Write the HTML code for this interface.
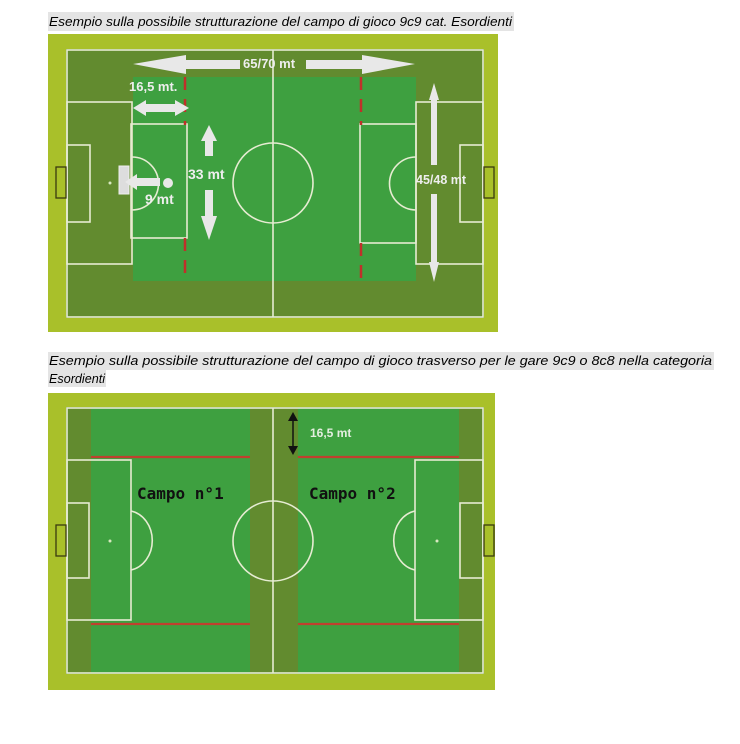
<!DOCTYPE html>
<html><head><meta charset="utf-8"><style>
html,body{margin:0;padding:0;background:#fff;width:740px;height:744px;overflow:hidden}
svg{display:block}
</style></head><body>
<svg width="740" height="744" viewBox="0 0 740 744" xmlns="http://www.w3.org/2000/svg" font-family="Liberation Sans, sans-serif">
<!-- Caption 1 -->
<rect x="48" y="12" width="466" height="19" fill="#e4e4e4"/>
<text x="49" y="26" font-size="12.5" font-style="italic" fill="#000" textLength="463" lengthAdjust="spacingAndGlyphs">Esempio sulla possibile strutturazione del campo di gioco 9c9 cat. Esordienti</text>

<!-- FIELD 1 -->
<rect x="48" y="34" width="450" height="298" fill="#a9c02a"/>
<rect x="66" y="49" width="418" height="269" fill="#628b2f"/>
<rect x="133" y="77" width="283" height="204" fill="#3ea040"/>
<g fill="none" stroke="#e6ecd2" stroke-width="1.6">
<rect x="67" y="50" width="416" height="267"/>
<line x1="273" y1="50" x2="273" y2="317"/>
<circle cx="273" cy="183" r="40"/>
<rect x="67" y="102" width="65" height="162"/>
<rect x="67" y="145" width="23" height="77"/>
<rect x="416" y="102" width="67" height="162"/>
<rect x="460" y="145" width="23" height="77"/>
<rect x="131" y="124" width="56" height="114"/>
<rect x="360" y="124" width="56" height="119"/>
<path d="M132 157 A26 26 0 0 1 132 210"/>
<path d="M416 157 A26 26 0 0 0 416 210"/>
</g>
<g fill="none" stroke="#3a3a10" stroke-width="1.3">
<rect x="56" y="167" width="10" height="31"/>
<rect x="484" y="167" width="10" height="31"/>
</g>
<rect x="119" y="166" width="10" height="28" fill="#ddd" stroke="#eee"/>
<circle cx="110" cy="183" r="1.5" fill="#d8e8c0"/>
<!-- red dashes -->
<g stroke="#c0302a" stroke-width="2.5" stroke-dasharray="13,9">
<line x1="185" y1="77" x2="185" y2="125"/>
<line x1="185" y1="238" x2="185" y2="281"/>
<line x1="361" y1="77" x2="361" y2="125"/>
<line x1="361" y1="243" x2="361" y2="281"/>
</g>
<!-- white arrows -->
<g fill="#e8e8e8">
<polygon points="133,64 186,55 186,60 240,60 240,69 186,69 186,74"/>
<polygon points="415,64 362,55 362,60 306,60 306,69 362,69 362,74"/>
<polygon points="133,108 146,100 146,104 175,104 175,100 189,108 175,116 175,112 146,112 146,116"/>
<polygon points="209,125 201,141 205,141 205,156 213,156 213,141 217,141"/>
<polygon points="209,240 201,216 205,216 205,190 213,190 213,216 217,216"/>
<polygon points="434,83 429,100 431,100 431,165 437,165 437,100 439,100"/>
<polygon points="434,282 429,262 431,262 431,194 437,194 437,262 439,262"/>
<polygon points="125,182 137,174 137,178 160,178 160,186 137,186 137,190"/>
<circle cx="168" cy="183" r="5"/>
</g>
<g fill="#eeeeee" font-weight="bold">
<text x="243" y="68" font-size="13">65/70 mt</text>
<text x="129" y="91" font-size="13">16,5 mt.</text>
<text x="188" y="179" font-size="14">33 mt</text>
<text x="145" y="204" font-size="14">9 mt</text>
<text x="416" y="184" font-size="12.5">45/48 mt</text>
</g>

<!-- Caption 2 -->
<rect x="48" y="352" width="666" height="18" fill="#e4e4e4"/>
<rect x="48" y="370" width="58" height="17" fill="#e4e4e4"/>
<text x="49" y="365" font-size="12.5" font-style="italic" fill="#000" textLength="663" lengthAdjust="spacingAndGlyphs">Esempio sulla possibile strutturazione del campo di gioco trasverso per le gare 9c9 o 8c8 nella categoria</text>
<text x="49" y="383" font-size="12.5" font-style="italic" fill="#000" textLength="56" lengthAdjust="spacingAndGlyphs">Esordienti</text>

<!-- FIELD 2 -->
<rect x="48" y="393" width="447" height="297" fill="#a9c02a"/>
<rect x="66" y="407" width="418" height="267" fill="#628b2f"/>
<rect x="91" y="408" width="159" height="265" fill="#3ea040"/>
<rect x="298" y="408" width="161" height="265" fill="#3ea040"/>
<g stroke="#c0402e" stroke-width="2.2">
<line x1="91" y1="457" x2="250" y2="457"/>
<line x1="298" y1="457" x2="459" y2="457"/>
<line x1="91" y1="624" x2="250" y2="624"/>
<line x1="298" y1="624" x2="459" y2="624"/>
</g>
<g fill="none" stroke="#e6ecd2" stroke-width="1.6">
<rect x="67" y="408" width="416" height="265"/>
<line x1="273" y1="408" x2="273" y2="673"/>
<circle cx="273" cy="541" r="40"/>
<rect x="67" y="460" width="64" height="160"/>
<rect x="67" y="503" width="22" height="75"/>
<rect x="415" y="460" width="68" height="160"/>
<rect x="460" y="503" width="23" height="75"/>
<path d="M131 511 A26 30 0 0 1 131 570"/>
<path d="M415 511 A26 30 0 0 0 415 570"/>
</g>
<g fill="none" stroke="#3a3a10" stroke-width="1.3">
<rect x="56" y="525" width="10" height="31"/>
<rect x="484" y="525" width="10" height="31"/>
</g>
<circle cx="110" cy="541" r="1.5" fill="#d8e8c0"/>
<circle cx="437" cy="541" r="1.5" fill="#d8e8c0"/>
<g fill="#111" stroke="#111">
<line x1="293" y1="416" x2="293" y2="451" stroke-width="1.5"/>
<polygon points="293,412 288,421 298,421" stroke="none"/>
<polygon points="293,455 288,446 298,446" stroke="none"/>
</g>
<text x="310" y="437" font-size="12" font-weight="bold" fill="#e4eee0">16,5 mt</text>
<g font-family="DejaVu Sans Mono, Liberation Mono, monospace" font-weight="bold" font-size="16" fill="#111">
<text x="137" y="499">Campo n°1</text>
<text x="309" y="499">Campo n°2</text>
</g>
</svg>
</body></html>
